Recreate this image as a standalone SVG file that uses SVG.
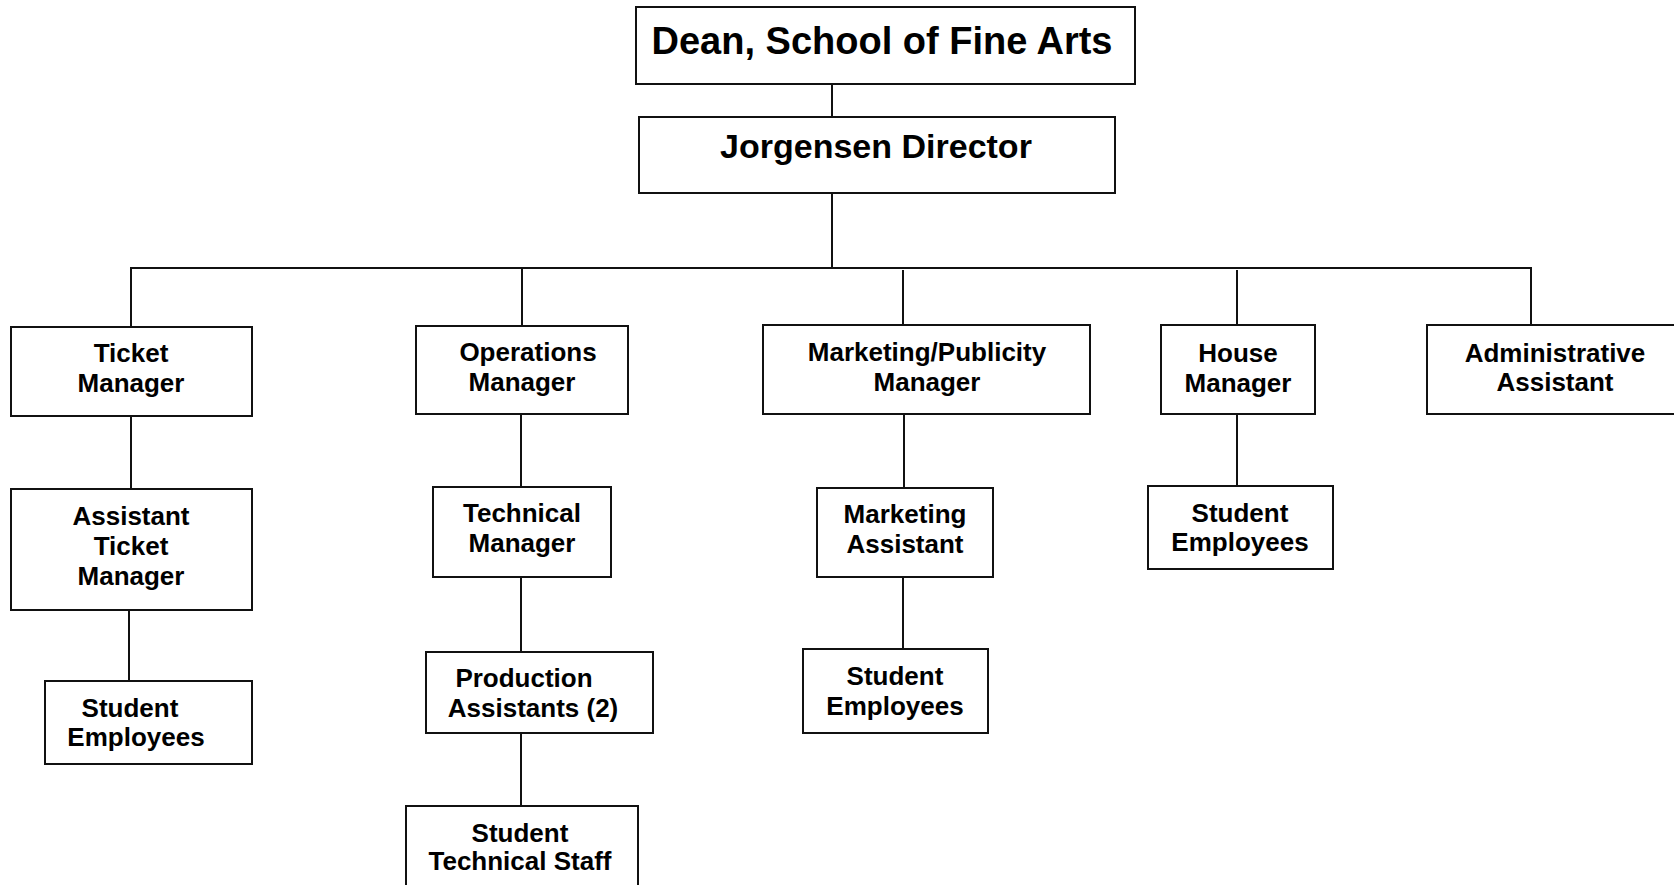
<svg xmlns="http://www.w3.org/2000/svg" width="1674" height="885" viewBox="0 0 1674 885">
  <style>
    .box { fill: #ffffff; stroke: #111111; stroke-width: 2; }
    .link { fill: none; stroke: #111111; stroke-width: 2; }
    text { font-family: "Liberation Sans", Arial, sans-serif; font-weight: bold; fill: #000000; text-anchor: middle; }
    .lbl { font-size: 26px; }
    .top { font-size: 38px; }
    .dir { font-size: 34px; }
  </style>
  <rect width="1674" height="885" fill="#ffffff"/>

  <!-- reporting lines -->
  <g id="connectors" class="link">
    <line x1="832" y1="84" x2="832" y2="117"/>
    <line x1="832" y1="193" x2="832" y2="268"/>
    <line x1="130" y1="268" x2="1532" y2="268"/>
    <line x1="131" y1="268" x2="131" y2="327"/>
    <line x1="522" y1="268" x2="522" y2="326"/>
    <line x1="903" y1="270" x2="903" y2="325"/>
    <line x1="1237" y1="270" x2="1237" y2="325"/>
    <line x1="1531" y1="268" x2="1531" y2="325"/>
    <line x1="131" y1="416" x2="131" y2="489"/>
    <line x1="129" y1="610" x2="129" y2="681"/>
    <line x1="521" y1="414" x2="521" y2="487"/>
    <line x1="521" y1="577" x2="521" y2="652"/>
    <line x1="521" y1="733" x2="521" y2="806"/>
    <line x1="904" y1="414" x2="904" y2="488"/>
    <line x1="903" y1="577" x2="903" y2="649"/>
    <line x1="1237" y1="414" x2="1237" y2="486"/>
  </g>

  <g id="dean">
    <rect class="box" x="636" y="7" width="499" height="77"/>
    <text class="top" x="882" y="54">Dean, School of Fine Arts</text>
  </g>

  <g id="director">
    <rect class="box" x="639" y="117" width="476" height="76"/>
    <text class="dir" x="876" y="158">Jorgensen Director</text>
  </g>

  <g id="ticket-manager">
    <rect class="box" x="11" y="327" width="241" height="89"/>
    <text class="lbl" x="131" y="362">Ticket</text>
    <text class="lbl" x="131" y="392">Manager</text>
  </g>

  <g id="operations-manager">
    <rect class="box" x="416" y="326" width="212" height="88"/>
    <text class="lbl" x="528" y="361">Operations</text>
    <text class="lbl" x="522" y="391">Manager</text>
  </g>

  <g id="marketing-manager">
    <rect class="box" x="763" y="325" width="327" height="89"/>
    <text class="lbl" x="927" y="361">Marketing/Publicity</text>
    <text class="lbl" x="927" y="391">Manager</text>
  </g>

  <g id="house-manager">
    <rect class="box" x="1161" y="325" width="154" height="89"/>
    <text class="lbl" x="1238" y="362">House</text>
    <text class="lbl" x="1238" y="392">Manager</text>
  </g>

  <g id="administrative-assistant">
    <rect class="box" x="1427" y="325" width="260" height="89"/>
    <text class="lbl" x="1555" y="362">Administrative</text>
    <text class="lbl" x="1555" y="391">Assistant</text>
  </g>

  <g id="assistant-ticket-manager">
    <rect class="box" x="11" y="489" width="241" height="121"/>
    <text class="lbl" x="131" y="525">Assistant</text>
    <text class="lbl" x="131" y="555">Ticket</text>
    <text class="lbl" x="131" y="585">Manager</text>
  </g>

  <g id="ticket-student-employees">
    <rect class="box" x="45" y="681" width="207" height="83"/>
    <text class="lbl" x="130" y="717">Student</text>
    <text class="lbl" x="136" y="746">Employees</text>
  </g>

  <g id="technical-manager">
    <rect class="box" x="433" y="487" width="178" height="90"/>
    <text class="lbl" x="522" y="522">Technical</text>
    <text class="lbl" x="522" y="552">Manager</text>
  </g>

  <g id="production-assistants">
    <rect class="box" x="426" y="652" width="227" height="81"/>
    <text class="lbl" x="524" y="687">Production</text>
    <text class="lbl" x="533" y="717">Assistants (2)</text>
  </g>

  <g id="student-technical-staff">
    <rect class="box" x="406" y="806" width="232" height="90"/>
    <text class="lbl" x="520" y="842">Student</text>
    <text class="lbl" x="520" y="870">Technical Staff</text>
  </g>

  <g id="marketing-assistant">
    <rect class="box" x="817" y="488" width="176" height="89"/>
    <text class="lbl" x="905" y="523">Marketing</text>
    <text class="lbl" x="905" y="553">Assistant</text>
  </g>

  <g id="marketing-student-employees">
    <rect class="box" x="803" y="649" width="185" height="84"/>
    <text class="lbl" x="895" y="685">Student</text>
    <text class="lbl" x="895" y="715">Employees</text>
  </g>

  <g id="house-student-employees">
    <rect class="box" x="1148" y="486" width="185" height="83"/>
    <text class="lbl" x="1240" y="522">Student</text>
    <text class="lbl" x="1240" y="551">Employees</text>
  </g>
</svg>
